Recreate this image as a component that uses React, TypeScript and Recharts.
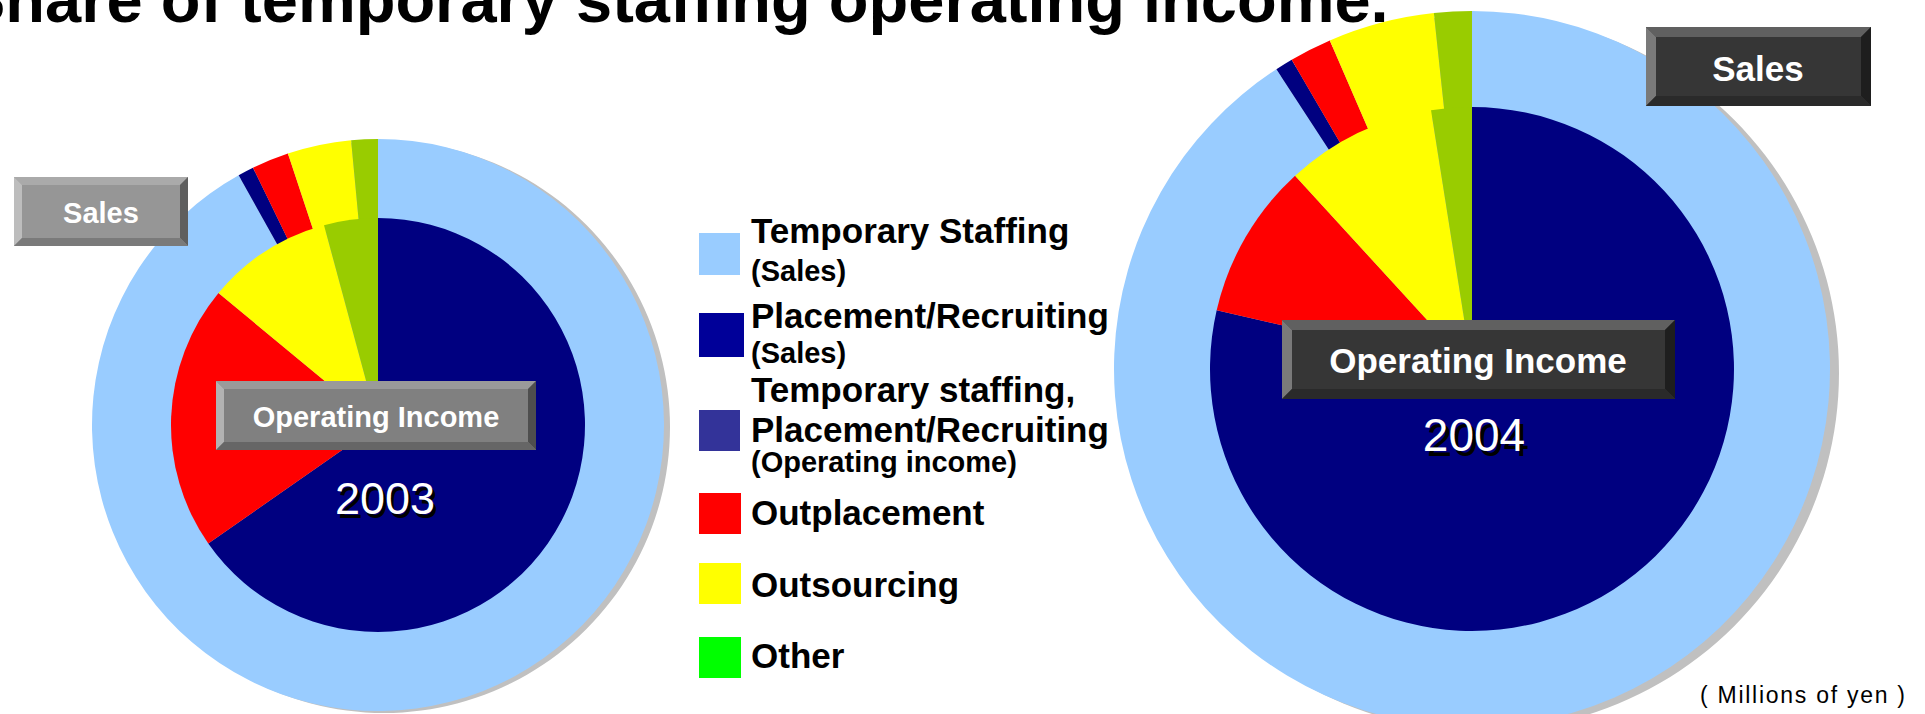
import React from 'react';
import { PieChart, Pie, Cell } from 'recharts';

// ---- data (shares, in % of each year's total) ----
const salesCategories = ['Temporary Staffing', 'Placement/Recruiting', 'Outplacement', 'Outsourcing', 'Other'];
const sales2003 = [91.9, 0.9, 2.1, 3.6, 1.5];
const sales2004 = [90.8, 0.8, 1.9, 4.8, 1.7];
const incomeCategories = ['Temporary staffing, Placement/Recruiting', 'Outplacement', 'Outsourcing', 'Other'];
const income2003 = [65.3, 20.7, 9.8, 4.2];
const income2004 = [78.6, 9.6, 9.3, 2.5];
const years = ['2003', '2004'];
const salesColors = ['#99CCFF', '#000080', '#FF0000', '#FFFF00', '#99CC00'];
const incomeColors = ['#000080', '#FF0000', '#FFFF00', '#99CC00'];
const legendColors = ['#99CCFF', '#000099', '#333399', '#FF0000', '#FFFF00', '#00FF00'];
const legendMain = [
  ['Temporary Staffing'],
  ['Placement/Recruiting'],
  ['Temporary staffing,', 'Placement/Recruiting'],
  ['Outplacement'],
  ['Outsourcing'],
  ['Other'],
];
const legendSub = ['(Sales)', '(Sales)', '(Operating income)', '', '', ''];
const titleText = 'Share of temporary staffing operating income.';
const unitText = '( Millions of yen )';

const toRows = (names: string[], vals: number[]) => names.map((name, i) => ({ name, value: vals[i] }));
const sales03 = toRows(salesCategories, sales2003);
const sales04 = toRows(salesCategories, sales2004);
const inc03 = toRows(incomeCategories, income2003);
const inc04 = toRows(incomeCategories, income2004);
const total = (v: number[]) => [{ name: 'total', value: v.reduce((a, b) => a + b, 0) }];

const FONT = '"Liberation Sans", Arial, Helvetica, sans-serif';

type BevelProps = {
  x: number; y: number; w: number; h: number; b: number;
  face: string; top: string; left: string; right: string; bottom: string;
};
const Bevel = ({ x, y, w, h, b, face, top, left, right, bottom }: BevelProps) => (
  <g>
    <rect x={x} y={y} width={w} height={h} fill={face} />
    <polygon points={`${x},${y} ${x + w},${y} ${x + w - b},${y + b} ${x + b},${y + b}`} fill={top} />
    <polygon points={`${x},${y} ${x + b},${y + b} ${x + b},${y + h - b} ${x},${y + h}`} fill={left} />
    <polygon points={`${x + w},${y} ${x + w},${y + h} ${x + w - b},${y + h - b} ${x + w - b},${y + b}`} fill={right} />
    <polygon points={`${x},${y + h} ${x + b},${y + h - b} ${x + w - b},${y + h - b} ${x + w},${y + h}`} fill={bottom} />
  </g>
);

const legendRects = [
  { y: 233, w: 41, h: 42 },
  { y: 313, w: 45, h: 44 },
  { y: 410, w: 41, h: 41 },
  { y: 493, w: 42, h: 41 },
  { y: 563, w: 42, h: 41 },
  { y: 637, w: 42, h: 41 },
];
const legendMainY = [[243], [328], [402, 442], [525], [597], [668]];
const legendSubY = [281, 363, 472, 0, 0, 0];

export default function App() {
  const common = { startAngle: 90, endAngle: -270, stroke: 'none', isAnimationActive: false, dataKey: 'value', legendType: 'none' as const };
  return (
    <div style={{ position: 'absolute', left: 0, top: 0, width: 1925, height: 714, background: '#fff', overflow: 'hidden' }}>
      <PieChart width={1925} height={714} margin={{ top: 0, right: 0, bottom: 0, left: 0 }}>
        {/* 2003 */}
        <Pie {...common} data={total(sales2003)} cx={384} cy={427} outerRadius={286} innerRadius={0} fill="#C0C0C0">
          <Cell fill="#C0C0C0" />
        </Pie>
        <Pie {...common} data={sales03} cx={378} cy={425} outerRadius={286} innerRadius={200}>
          {sales03.map((d, i) => <Cell key={d.name} fill={salesColors[i]} />)}
        </Pie>
        <Pie {...common} data={inc03} cx={378} cy={425} outerRadius={207} innerRadius={0}>
          {inc03.map((d, i) => <Cell key={d.name} fill={incomeColors[i]} />)}
        </Pie>
        {/* 2004 */}
        <Pie {...common} data={total(sales2004)} cx={1481} cy={373} outerRadius={358} innerRadius={0} fill="#C0C0C0">
          <Cell fill="#C0C0C0" />
        </Pie>
        <Pie {...common} data={sales04} cx={1472} cy={369} outerRadius={358} innerRadius={255}>
          {sales04.map((d, i) => <Cell key={d.name} fill={salesColors[i]} />)}
        </Pie>
        <Pie {...common} data={inc04} cx={1472} cy={369} outerRadius={262} innerRadius={0}>
          {inc04.map((d, i) => <Cell key={d.name} fill={incomeColors[i]} />)}
        </Pie>
      </PieChart>
      <svg width={1925} height={714} style={{ position: 'absolute', left: 0, top: 0, pointerEvents: 'none' }} fontFamily={FONT}>
        <text x={-38} y={22} fontSize={65} fontWeight="bold" fill="#000">{titleText}</text>

        {/* 2003 labels */}
        <Bevel x={14} y={177} w={174} h={69} b={8} face="#969696" top="#AAAAAA" left="#BDBDBD" right="#5F5F5F" bottom="#7A7A7A" />
        <text x={101} y={223} fontSize={29} fontWeight="bold" fill="#fff" textAnchor="middle">Sales</text>
        <Bevel x={216} y={381} w={320} h={69} b={8} face="#808080" top="#9A9A9A" left="#B2B2B2" right="#4E4E4E" bottom="#666666" />
        <text x={376} y={427} fontSize={29} fontWeight="bold" fill="#fff" textAnchor="middle">Operating Income</text>
        <text x={388} y={518} fontSize={45} fill="#000" textAnchor="middle">{years[0]}</text>
        <text x={385} y={514} fontSize={45} fill="#fff" textAnchor="middle">{years[0]}</text>

        {/* 2004 labels */}
        <Bevel x={1646} y={27} w={225} h={79} b={10} face="#363636" top="#606060" left="#7A7A7A" right="#1E1E1E" bottom="#2A2A2A" />
        <text x={1758} y={81} fontSize={35} fontWeight="bold" fill="#fff" textAnchor="middle">Sales</text>
        <Bevel x={1282} y={320} w={393} h={79} b={10} face="#363636" top="#606060" left="#7A7A7A" right="#1E1E1E" bottom="#2A2A2A" />
        <text x={1478} y={373} fontSize={35} fontWeight="bold" fill="#fff" textAnchor="middle">Operating Income</text>
        <text x={1478} y={456} fontSize={46} fill="#000" textAnchor="middle">{years[1]}</text>
        <text x={1474} y={451} fontSize={46} fill="#fff" textAnchor="middle">{years[1]}</text>

        {/* legend */}
        {legendRects.map((r, i) => (
          <g key={i}>
            <rect x={699} y={r.y} width={r.w} height={r.h} fill={legendColors[i]} />
            {legendMain[i].map((line, j) => (
              <text key={j} x={751} y={legendMainY[i][j]} fontSize={35} fontWeight="bold" fill="#000">{line}</text>
            ))}
            {legendSub[i] ? (
              <text x={751} y={legendSubY[i]} fontSize={29} fontWeight="bold" fill="#000">{legendSub[i]}</text>
            ) : null}
          </g>
        ))}

        <text x={1700} y={703} fontSize={23} fill="#000" textLength={205} lengthAdjust="spacing">{unitText}</text>
      </svg>
    </div>
  );
}
